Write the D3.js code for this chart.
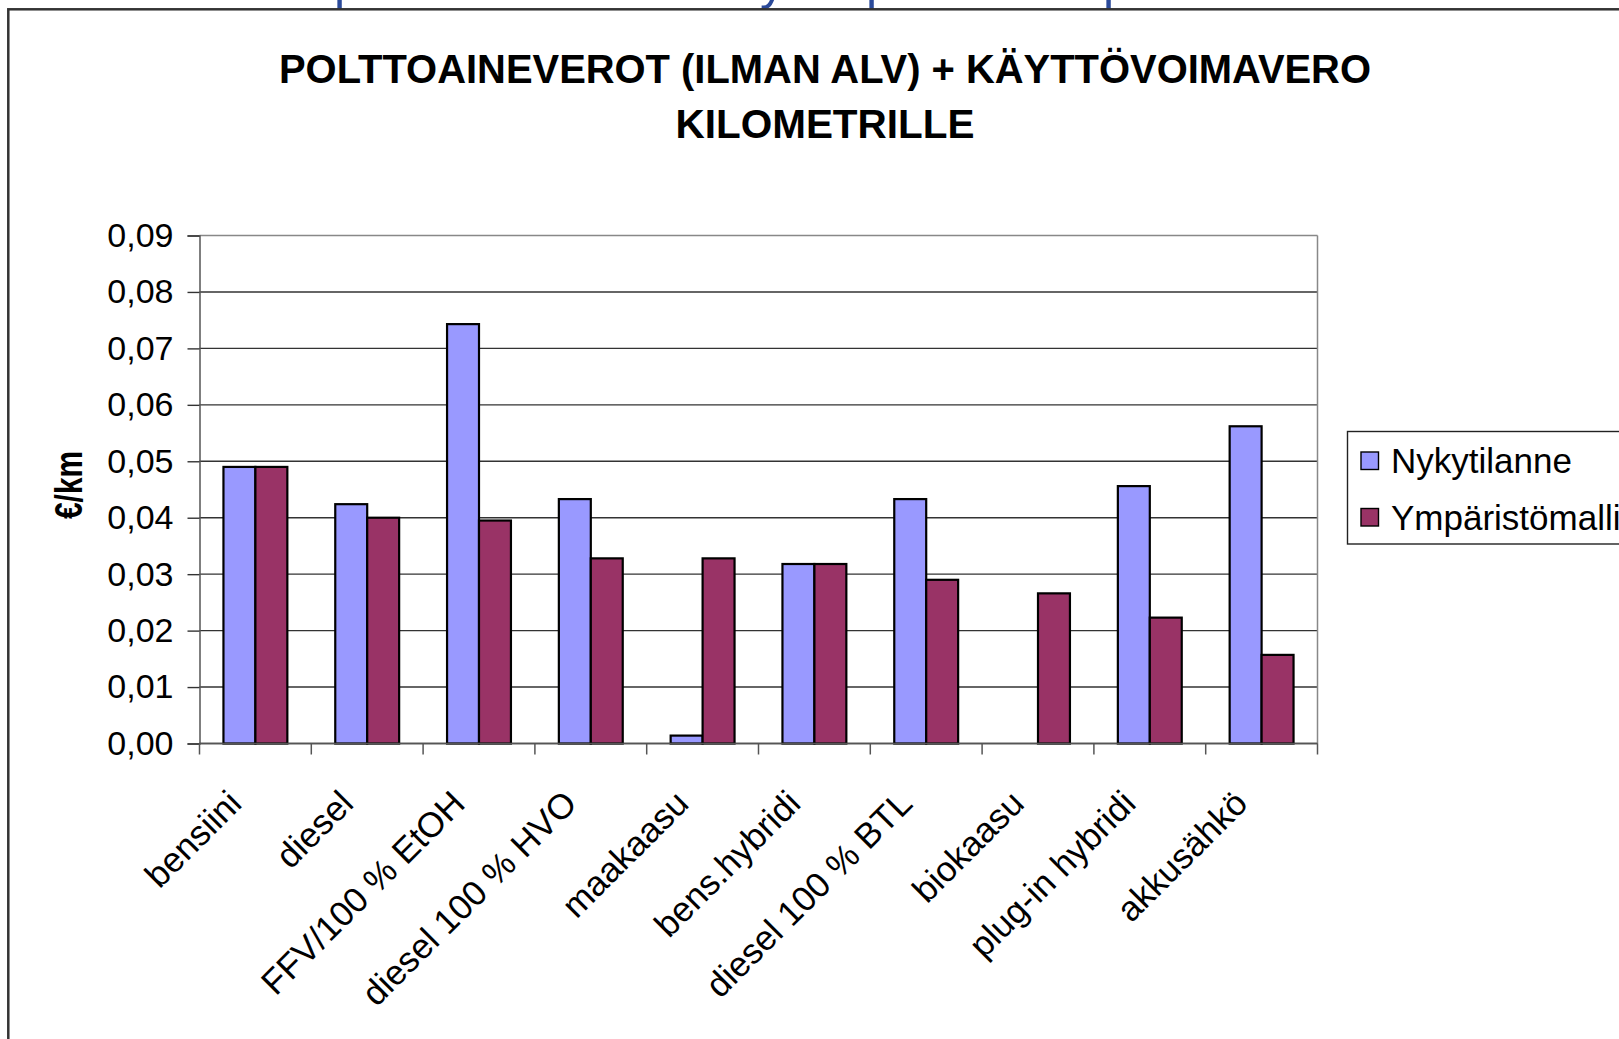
<!DOCTYPE html>
<html>
<head>
<meta charset="utf-8">
<script src="https://cdn.jsdelivr.net/npm/d3@7"></script>
<style>
  body { margin: 0; background: #fff; }
  svg { display: block; font-family: Arial, "Liberation Sans", sans-serif; }
</style>
</head>
<body>
<div id="chart"></div>
<script>
// data
const categories = ["bensiini", "diesel", "FFV/100 % EtOH", "diesel 100 % HVO", "maakaasu",
  "bens.hybridi", "diesel 100 % BTL", "biokaasu", "plug-in hybridi", "akkusähkö"];
const seriesNames = ["Nykytilanne", "Ympäristömalli"];
const nykytilanne = [0.049, 0.0424, 0.0743, 0.0433, 0.0014, 0.0318, 0.0433, 0, 0.0456, 0.0562];
const ymparistomalli = [0.049, 0.040, 0.0395, 0.0328, 0.0328, 0.0318, 0.029, 0.0266, 0.0223, 0.0157];
const yTicks = [0, 0.01, 0.02, 0.03, 0.04, 0.05, 0.06, 0.07, 0.08, 0.09];
const colors = ["#9999FF", "#993366"];

const W = 1619, H = 1039;
const plot = {left: 199.5, right: 1317.5, top: 235.5, bottom: 743.5};

const svg = d3.select("#chart").append("svg")
    .attr("width", W)
    .attr("height", H);

// bits of the slide title cut off above the chart
const frag = svg.append("g")
    .attr("fill", "#2B4A9A")
    .style("font-size", "50px");
[["p", 334], ["y", 760], ["p", 866], ["p", 1103]].forEach(([t, x]) => {
  frag.append("text").attr("x", x).attr("y", -1).text(t);
});

// chart frame
svg.append("rect")
    .attr("x", 8.3).attr("y", 9.3)
    .attr("width", W).attr("height", H)
    .attr("fill", "#fff")
    .attr("stroke", "#333")
    .attr("stroke-width", 2.5);

// title
const title = svg.append("g")
    .attr("text-anchor", "middle")
    .style("font-weight", "bold")
    .style("font-size", "41px");
title.append("text")
    .attr("x", 825).attr("y", 82.5)
    .attr("textLength", 1092).attr("lengthAdjust", "spacingAndGlyphs")
    .text("POLTTOAINEVEROT (ILMAN ALV) + KÄYTTÖVOIMAVERO");
title.append("text")
    .attr("x", 825).attr("y", 137.5)
    .attr("textLength", 299).attr("lengthAdjust", "spacingAndGlyphs")
    .text("KILOMETRILLE");

const x = d3.scaleBand()
    .domain(categories)
    .range([plot.left, plot.right]);

const xInner = d3.scaleBand()
    .domain(seriesNames)
    .range([0, x.bandwidth()])
    .paddingOuter(0.75);

const y = d3.scaleLinear()
    .domain([0, 0.09])
    .range([plot.bottom, plot.top]);

// gridlines
svg.append("g")
    .selectAll("line")
    .data(yTicks)
    .enter().append("line")
    .attr("x1", plot.left).attr("x2", plot.right)
    .attr("y1", d => y(d)).attr("y2", d => y(d))
    .attr("stroke", d => d === 0.09 ? "#888" : "#333")
    .attr("stroke-width", 1.4);

// right edge of plot area
svg.append("line")
    .attr("x1", plot.right).attr("x2", plot.right)
    .attr("y1", plot.top).attr("y2", plot.bottom)
    .attr("stroke", "#888")
    .attr("stroke-width", 1.5);

// y axis
const yAxis = svg.append("g")
    .attr("transform", `translate(${plot.left},0)`)
    .call(d3.axisLeft(y)
        .tickValues(yTicks)
        .tickSize(12)
        .tickPadding(14)
        .tickFormat(d => d3.format(".2f")(d).replace(".", ",")));
yAxis.select(".domain").attr("stroke", "#555").attr("stroke-width", 1.5);
yAxis.selectAll(".tick line").attr("stroke", "#333").attr("stroke-width", 1.4);
yAxis.selectAll(".tick text")
    .attr("fill", "#000")
    .style("font-size", "34px")
    .style("font-family", "Arial, 'Liberation Sans', sans-serif");

// y axis title
svg.append("text")
    .attr("transform", "translate(82,485) rotate(-90)")
    .attr("text-anchor", "middle")
    .attr("textLength", 68).attr("lengthAdjust", "spacingAndGlyphs")
    .style("font-size", "38px")
    .style("font-weight", "bold")
    .text("€/km");

// bars
const rows = categories.map((c, i) => ({c, vals: [nykytilanne[i], ymparistomalli[i]]}));
const groups = svg.append("g")
    .selectAll("g")
    .data(rows)
    .enter().append("g")
    .attr("transform", d => `translate(${x(d.c)},0)`);

groups.selectAll("rect")
    .data(d => d.vals.map((v, k) => ({key: seriesNames[k], value: v, k})).filter(b => b.value > 0))
    .enter().append("rect")
    .attr("x", d => xInner(d.key))
    .attr("y", d => y(d.value))
    .attr("width", xInner.bandwidth())
    .attr("height", d => plot.bottom - y(d.value))
    .attr("fill", d => colors[d.k])
    .attr("stroke", "#000")
    .attr("stroke-width", 2.2);

// x axis line and ticks between categories
svg.append("line")
    .attr("x1", plot.left).attr("x2", plot.right)
    .attr("y1", plot.bottom).attr("y2", plot.bottom)
    .attr("stroke", "#555").attr("stroke-width", 1.5);

const bounds = categories.map(c => x(c)).concat([plot.right]);
svg.append("g")
    .selectAll("line")
    .data(bounds)
    .enter().append("line")
    .attr("x1", d => d).attr("x2", d => d)
    .attr("y1", plot.bottom).attr("y2", plot.bottom + 11)
    .attr("stroke", "#555").attr("stroke-width", 1.5);

// category labels, rotated
svg.append("g")
    .selectAll("text")
    .data(categories)
    .enter().append("text")
    .attr("transform", d => `translate(${x(d) + x.bandwidth() / 2 - 12},${plot.bottom + 62}) rotate(-45)`)
    .attr("text-anchor", "end")
    .style("font-size", "35px")
    .text(d => d);

// legend
const legend = svg.append("g");
legend.append("rect")
    .attr("x", 1347.5).attr("y", 431.5)
    .attr("width", 400).attr("height", 112.5)
    .attr("fill", "#fff")
    .attr("stroke", "#222")
    .attr("stroke-width", 1.4);

const items = legend.selectAll("g.item")
    .data(seriesNames)
    .enter().append("g")
    .attr("class", "item")
    .attr("transform", (d, i) => `translate(0,${i * 56.5})`);

items.append("rect")
    .attr("x", 1361).attr("y", 452)
    .attr("width", 17.5).attr("height", 17.5)
    .attr("fill", (d, i) => colors[i])
    .attr("stroke", "#000")
    .attr("stroke-width", 1.4);

items.append("text")
    .attr("x", 1391).attr("y", 473)
    .style("font-size", "35px")
    .text(d => d);
</script>
</body>
</html>
